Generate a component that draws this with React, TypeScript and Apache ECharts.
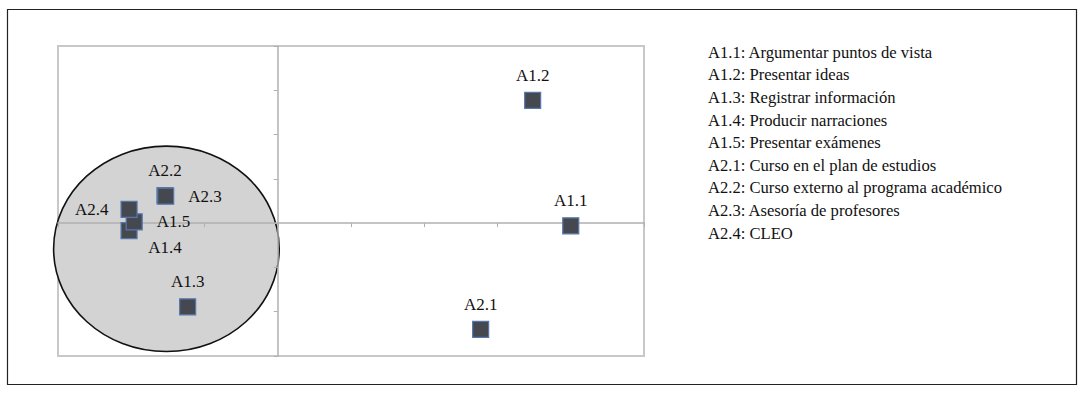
import React, { useEffect, useRef } from "react";
import * as echarts from "echarts";

const pointNames = ["A1.1", "A1.2", "A1.3", "A1.4", "A1.5", "A2.1", "A2.2", "A2.3", "A2.4"];
const xValues = [4.0, 3.48, -1.23, -2.03, -1.96, 2.77, -1.54, -1.53, -2.03];
const yValues = [-0.06, 2.77, -1.89, -0.17, 0.03, -2.4, 0.62, 0.61, 0.31];
const labelPlaces = ["top", "top", "top", "a14", "right", "top", "top", "right", "left"];

const legendLines = [
  "A1.1: Argumentar puntos de vista",
  "A1.2: Presentar ideas",
  "A1.3: Registrar información",
  "A1.4: Producir narraciones",
  "A1.5: Presentar exámenes",
  "A2.1: Curso en el plan de estudios",
  "A2.2: Curso externo al programa académico",
  "A2.3: Asesoría de profesores",
  "A2.4: CLEO",
];

// cluster ellipse: center x, center y, radius x, radius y (data units)
const clusterEllipse = [-1.52, -0.58, 1.54, 2.32];

const SERIF = "Liberation Serif";

export default function App() {
  const ref = useRef<HTMLDivElement>(null);
  useEffect(() => {
    if (!ref.current) return;
    const chart = echarts.init(ref.current, null, { renderer: "svg" });
    const scatterData = pointNames.map((n, i) => {
      const place = labelPlaces[i];
      let label: any = { position: place, distance: 8 };
      if (place === "right") label = { position: "right", distance: 14 };
      if (place === "left") label = { position: "left", distance: 12 };
      if (place === "a14") label = { position: "bottom", distance: 0, offset: [36, 0] };
      return { name: n, value: [xValues[i], yValues[i]], label };
    });
    chart.setOption({
      animation: false,
      grid: {
        left: 58,
        top: 46,
        right: 439,
        bottom: 38,
        show: true,
        borderColor: "#c8c8c8",
        borderWidth: 2,
        backgroundColor: "transparent",
      },
      xAxis: {
        type: "value",
        min: -3,
        max: 5,
        interval: 1,
        z: 2,
        splitLine: { show: false },
        axisLabel: { show: false },
        axisLine: { onZero: true, lineStyle: { color: "#b0b0b0", width: 1.5 } },
        axisTick: { show: true, length: 4, lineStyle: { color: "#b0b0b0" } },
      },
      yAxis: {
        type: "value",
        min: -3,
        max: 4,
        interval: 1,
        z: 2,
        splitLine: { show: false },
        axisLabel: { show: false },
        axisLine: { onZero: true, lineStyle: { color: "#b0b0b0", width: 1.5 } },
        axisTick: { show: true, length: 4, lineStyle: { color: "#b0b0b0" } },
      },
      series: [
        {
          type: "custom",
          z: 1,
          clip: false,
          data: [clusterEllipse],
          renderItem: (params: any, api: any) => {
            const c = api.coord([api.value(0), api.value(1)]);
            const s = api.size([api.value(2), api.value(3)]);
            return {
              type: "ellipse",
              shape: { cx: c[0], cy: c[1], rx: s[0], ry: s[1] },
              style: { fill: "#d3d3d3", stroke: "#111111", lineWidth: 1.6 },
            };
          },
        },
        {
          type: "scatter",
          z: 3,
          symbol: "rect",
          symbolSize: 16,
          itemStyle: { color: "#45494f", borderColor: "#5677ad", borderWidth: 1.2, opacity: 1 },
          label: {
            show: true,
            formatter: "{b}",
            fontFamily: SERIF,
            fontSize: 17,
            color: "#111",
          },
          data: scatterData,
        },
      ],
      graphic: [
        {
          type: "rect",
          shape: { x: 7.5, y: 9.5, width: 1069, height: 375 },
          style: { fill: "none", stroke: "#222", lineWidth: 1.2 },
          silent: true,
        },
        {
          type: "text",
          left: 708,
          top: 41,
          style: {
            text: legendLines.join("\n"),
            fontFamily: SERIF,
            fontSize: 16.6,
            lineHeight: 22.6,
            fill: "#111",
          },
        },
      ],
    });
    return () => chart.dispose();
  }, []);
  return (
    <div
      ref={ref}
      style={{ position: "absolute", left: 0, top: 0, width: 1083, height: 394, background: "#fff" }}
    />
  );
}
